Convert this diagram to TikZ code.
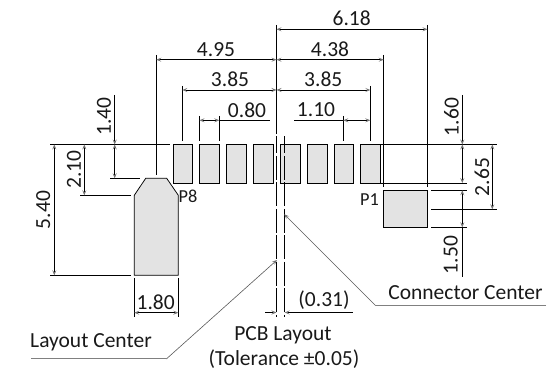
\documentclass[tikz,border=0pt]{standalone}
\usepackage{fontspec}
\setmainfont{Carlito}
\usetikzlibrary{arrows.meta}
\tikzset{
  x=1pt,y=-1pt,
  tip/.tip={Stealth[length=5pt,width=4pt,inset=2pt,color=black!55]},
  dimline/.style={line width=0.75pt,black,{tip}-{tip}},
  dimend/.style={line width=0.75pt,black,-{tip}},
  extline/.style={line width=0.75pt,black},
  padshape/.style={draw=black,line width=0.75pt,fill=black!11},
  centerline/.style={line width=0.75pt,black,dash pattern=on 24pt off 2.5pt,dash phase=7pt},
  leader/.style={line width=0.6pt,black!65,-{tip}},
  leaderbase/.style={line width=1pt,black!50},
  lbl/.style={font=\fontsize{21.5}{24}\selectfont,text=black!90,inner sep=0pt},
  lblsmall/.style={font=\fontsize{18.3}{20}\selectfont,text=black!90,inner sep=0pt},
}
\begin{document}
\begin{tikzpicture}
\useasboundingbox (0,0) rectangle (547,374);
% pads
\foreach \n/\a/\b in {a/173/192.7,b/199.5/219.5,c/226.5/246.7,d/253.3/273.7,e/280.3/300,f/307.3/327,g/334/353.7,h/360.3/380.7}{
  \draw[padshape] (\a,144.5) rectangle (\b,183);
}
\draw[padshape] (383.3,190.3) rectangle (427.7,227.3);
\draw[padshape] (134.3,275.3) -- (134.3,195.3) -- (145.7,178.3) -- (166.7,178.3) -- (178.3,195.3) -- (178.3,275.3) -- cycle;
% coordinates
\coordinate (lc) at (276.5,25);
\coordinate (lcm) at (276.5,134.5);
\coordinate (lcd) at (276.5,136.5);
\coordinate (lcb) at (276.5,317);
\coordinate (cc) at (284.7,136.5);
\coordinate (ccb) at (284.7,317);
\draw[extline] (lc) -- (lcm);
\draw[centerline] (lcd) -- (lcb);
\draw[centerline] (cc) -- (ccb);
% horizontal references
\draw[extline] (50,144.5) -- (170,144.5);
\draw[extline] (380.7,144.5) -- (497,144.5);
\draw[extline] (380.7,183) -- (466.7,183);
\draw[extline] (431,190.3) -- (466.7,190.3);
\draw[extline] (431,227.3) -- (466.7,227.3);
\draw[extline] (431,209.3) -- (497,209.3);
\draw[extline] (50,275.3) -- (131,275.3);
\draw[extline] (80,195.3) -- (131,195.3);
\draw[extline] (110,178.3) -- (140,178.3);
% vertical extensions
\draw[extline] (156.3,55) -- (156.3,174.7);
\draw[extline] (182.3,86) -- (182.3,141);
\draw[extline] (199.5,116) -- (199.5,141);
\draw[extline] (219.3,116) -- (219.3,141);
\draw[extline] (343.3,116) -- (343.3,141);
\draw[extline] (370.3,86) -- (370.3,141);
\draw[extline] (383.7,55) -- (383.7,187);
\draw[extline] (427.5,25) -- (427.5,187);
\draw[extline] (134.3,278) -- (134.3,316.7);
\draw[extline] (178.3,278) -- (178.3,316.7);
% horizontal dimensions
\draw[dimline] (276.5,29.3) -- (427.5,29.3);
\draw[dimline] (156.3,59.7) -- (276.5,59.7);
\draw[dimline] (276.5,59.7) -- (383.7,59.7);
\draw[dimline] (182.3,90) -- (276.5,90);
\draw[dimline] (276.5,90) -- (370.3,90);
\draw[dimline] (199.5,120.3) -- (219.3,120.3);
\draw[extline] (219.3,120.3) -- (270,120.3);
\draw[dimline] (343.3,120.3) -- (370.3,120.3);
\draw[extline] (294,120.3) -- (343.3,120.3);
\draw[dimline] (134.3,312.7) -- (178.3,312.7);
\draw[dimend] (265,312.5) -- (276.5,312.5);
\draw[dimend] (352.7,312.5) -- (284.7,312.5);
% vertical dimensions
\draw[dimend] (114.7,95) -- (114.7,144.5);
\draw[dimline] (114.7,144.5) -- (114.7,178.3);
\draw[dimline] (54.3,144.5) -- (54.3,275.3);
\draw[dimline] (84.3,144.5) -- (84.3,195.3);
\draw[dimend] (462.3,95) -- (462.3,144.5);
\draw[dimline] (462.3,144.5) -- (462.3,183);
\draw[dimline] (492.3,144.5) -- (492.3,209.3);
\draw[dimline] (462.3,190.3) -- (462.3,227.3);
\draw[extline] (462.3,227.3) -- (462.3,276.7);
% leaders
\coordinate (ls) at (31,359);
\coordinate (lk) at (166.3,359);
\coordinate (lt) at (277,260);
\draw[leaderbase] (ls) -- (lk);
\draw[leader] (lk) -- (lt);
\coordinate (cs) at (546,305.7);
\coordinate (ck) at (375.7,305.7);
\coordinate (ct) at (284.3,214.3);
\draw[leaderbase] (cs) -- (ck);
\draw[leader] (ck) -- (ct);
% labels
\node[lbl] (t618) at (351.7,18.5) {6.18};
\node[lbl] (t495) at (216,49.5) {4.95};
\node[lbl] (t438) at (330,49.5) {4.38};
\node[lbl] (t385a) at (230,79.7) {3.85};
\node[lbl] (t385b) at (323.3,79.7) {3.85};
\node[lbl] (t080) at (247,110) {0.80};
\node[lbl] (t110) at (316,110) {1.10};
\node[lbl,rotate=90] (t140) at (104,116.7) {1.40};
\node[lbl,rotate=90] (t160) at (451.5,117) {1.60};
\node[lbl,rotate=90] (t210) at (74,169.5) {2.10};
\node[lbl,rotate=90] (t265) at (482,177) {2.65};
\node[lbl,rotate=90] (t540) at (43.3,210) {5.40};
\node[lbl,rotate=90] (t150) at (450.7,255) {1.50};
\node[lbl] (t180) at (155.7,302) {1.80};
\node[lbl] (t031) at (324,300) {(0.31)};
\node[lblsmall] (p8) at (188,196) {P8};
\node[lblsmall] (p1) at (369.5,199.5) {P1};
\node[lbl,anchor=base] (tlc) at (91,347.7) {Layout Center};
\node[lbl] (tcc) at (465.5,292.5) {Connector Center};
\node[lbl,anchor=base] (tpcb) at (283,341) {PCB Layout};
\node[lbl,anchor=base] (ttol) at (284,365.7) {(Tolerance ±0.05)};
\end{tikzpicture}
\end{document}
